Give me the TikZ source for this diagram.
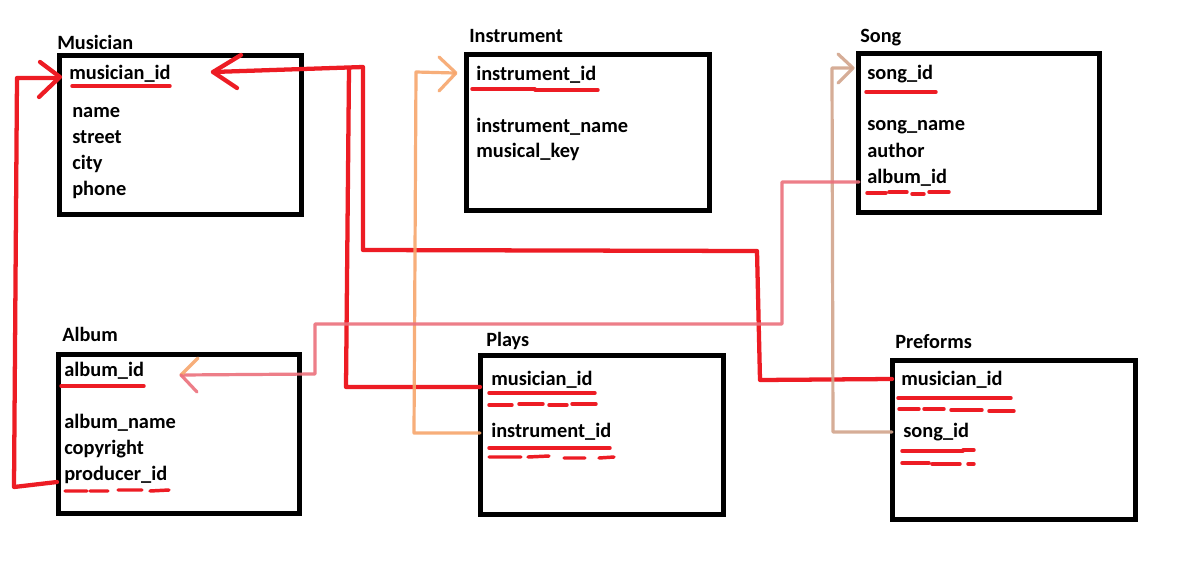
\documentclass[tikz,border=0pt]{standalone}
\usepackage{fontspec}
\setmainfont{Carlito}
\definecolor{pred}{HTML}{ED1C24}
\definecolor{porange}{RGB}{247,166,108}
\definecolor{ptan}{RGB}{210,165,140}
\definecolor{ppink}{RGB}{236,112,124}
\begin{document}
\begin{tikzpicture}[x=0.75pt,y=-0.75pt,
  tbox/.style={draw=black,line width=3.75pt},
  ttitle/.style={anchor=base west,inner sep=0pt,font=\bfseries\fontsize{15.2}{17}\selectfont},
  tfield/.style={anchor=base west,inner sep=0pt,font=\bfseries\fontsize{15.3}{17}\selectfont},
  uline/.style={pred,line width=2.6pt,line cap=round},
  redc/.style={pred,line width=3.2pt,line join=round,line cap=round},
  lightc/.style={line width=2.4pt,line join=round,line cap=round,opacity=0.9},
]
\useasboundingbox (0,0) rectangle (1189,572);
\fill[white] (0,0) rectangle (1189,572);
% boxes
\draw[tbox] (59.5,55.5) rectangle (301.5,214.5);
\draw[tbox] (466.5,54.5) rectangle (709.5,210.5);
\draw[tbox] (858.5,53.5) rectangle (1099.5,212.5);
\draw[tbox] (58.5,354.5) rectangle (299.5,513.5);
\draw[tbox] (480.5,355.5) rectangle (723.5,514.5);
\draw[tbox] (892.5,360.5) rectangle (1135.5,519.5);
% titles
\node[ttitle] (tMus) at (57,49) {Musician};
\node[ttitle] (tIns) at (469,42) {Instrument};
\node[ttitle] (tSong) at (860,42) {Song};
\node[ttitle] (tAlb) at (62,341) {Album};
\node[ttitle] (tPlays) at (486,346) {Plays};
\node[ttitle] (tPref) at (895,348) {Preforms};
% Musician fields
\node[tfield] (mId) at (69,79) {musician\_id};
\node[tfield] (mName) at (72,117) {name};
\node[tfield] (mStreet) at (72,143) {street};
\node[tfield] (mCity) at (72,169) {city};
\node[tfield] (mPhone) at (72,195) {phone};
% Instrument
\node[tfield] (iId) at (476,80) {instrument\_id};
\node[tfield] (iName) at (476,132) {instrument\_name};
\node[tfield] (iKey) at (476,157) {musical\_key};
% Song
\node[tfield] (sId) at (867,79) {song\_id};
\node[tfield] (sName) at (867,130) {song\_name};
\node[tfield] (sAuth) at (867,157) {author};
\node[tfield] (sAlb) at (867,183) {album\_id};
% Album
\node[tfield] (aId) at (64,376) {album\_id};
\node[tfield] (aName) at (64,428) {album\_name};
\node[tfield] (aCopy) at (64,454) {copyright};
\node[tfield] (aProd) at (64,480) {producer\_id};
% Plays
\node[tfield] (pMus) at (491,385) {musician\_id};
\node[tfield] (pIns) at (491,437) {instrument\_id};
% Preforms
\node[tfield] (fMus) at (901,385) {musician\_id};
\node[tfield] (fSong) at (903,437) {song\_id};
% underlines
\draw[uline] (72,86) -- (170,86);
\draw[uline] (472,89) -- (535,89) (535,90) -- (598,90);
\draw[uline] (866,92) -- (936,92);
\draw[uline] (61,386) -- (144,386);
\draw[uline] (867,193) -- (886,193) (889,192) -- (907,192) (912,194) -- (924,194) (929,192) -- (949,192);
\draw[uline] (65,491) -- (87,491) (90,491) -- (108,491) (118,490) -- (142,490) (150,491) -- (169,490);
\draw[uline] (489,393) -- (595,393);
\draw[uline] (489,405) -- (512,405) (519,404) -- (543,404) (549,405) -- (567,405) (572,404) -- (596,404);
\draw[uline] (489,448) -- (610,448);
\draw[uline] (489,457) -- (521,457) (528,457) -- (549,456) (564,458) -- (585,458) (599,458) -- (614,457);
\draw[uline] (898,398) -- (1011,398);
\draw[uline] (899,409) -- (919,409) (924,409) -- (944,409) (951,410) -- (982,410) (989,411) -- (1014,411);
\draw[uline] (902,451) -- (963,451) (963,450) -- (974,450);
\draw[uline] (902,463) -- (929,463) (932,464) -- (960,464) (968,464) -- (974,464);
% connectors
% producer_id -> musician_id
\draw[redc] (aProd.base west) ++(-7,2) -- (14,487) -- (17,78) -- (58,78);
\draw[redc] (40,62) -- (60,77) -- (39,97);
% Plays.musician_id -> musician_id
\draw[redc] (pMus.base west) ++(-11,2) -- (346,387) -- (349,68);
% Preforms.musician_id -> musician_id
\draw[redc] (fMus.base west) ++(-9,-6) -- (760,380) -- (757,251) -- (363,250) -- (363,67) -- (213,72);
\draw[redc] (241,55) -- (213,72) -- (237,88);
% Plays.instrument_id -> instrument_id
\draw[lightc,porange] (pIns.base west) ++(-11,-4) -- (414,433) -- (416,72) -- (455,73);
\draw[lightc,porange] (439,57) -- (456,73) -- (439,91);
% Preforms.song_id -> song_id
\draw[lightc,ptan] (fSong.base west) ++(-11,-5) -- (833,432) -- (832,68) -- (852,68);
\draw[lightc,ptan] (838,54) -- (853,68) -- (838,83);
% Song.album_id -> album_id
\draw[lightc,ppink] (sAlb.base west) ++(-8,-1) -- (782,182) -- (782,324) -- (315,324) -- (315,374) -- (181,375);
\draw[lightc,porange] (198,358) -- (181,375);
\draw[lightc,ppink] (181,375) -- (197,392);
\end{tikzpicture}
\end{document}
